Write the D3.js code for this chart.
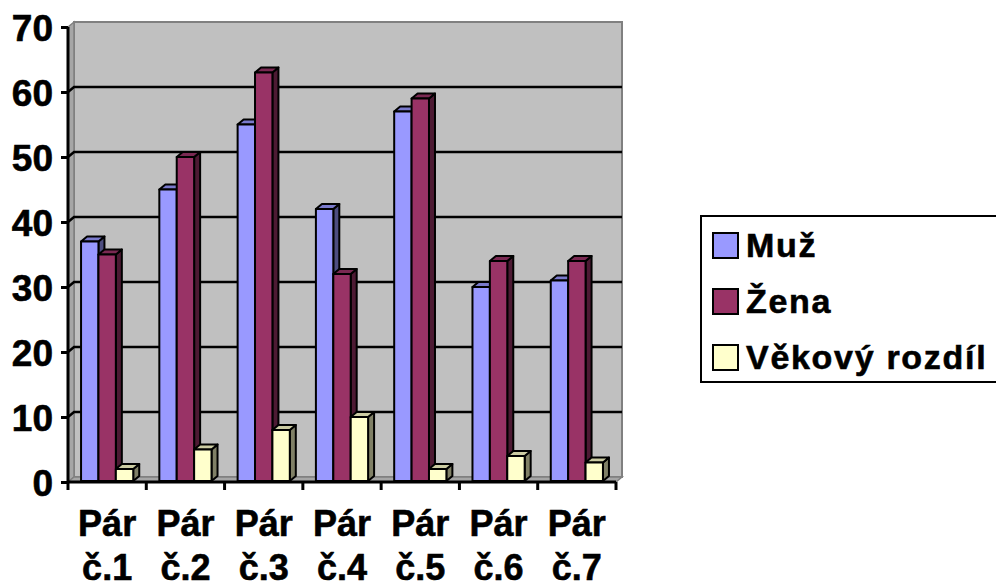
<!DOCTYPE html>
<html lang="cs">
<head>
<meta charset="UTF-8">
<title>Páry</title>
<script src="https://d3js.org/d3.v7.min.js"></script>
<style>
  body { margin: 0; background: #fff; }
  text { font-family: Arial, 'Liberation Sans', sans-serif; font-weight: bold; fill: #000; stroke: #000; stroke-width: 0.6px; }
</style>
</head>
<body>
<div class="canvas"></div>
<script>
  // data
  const categories = ['Pár č.1', 'Pár č.2', 'Pár č.3', 'Pár č.4', 'Pár č.5', 'Pár č.6', 'Pár č.7']
  const seriesNames = ['Muž', 'Žena', 'Věkový rozdíl']
  const muz = [37, 45, 55, 42, 57, 30, 31]
  const zena = [35, 50, 63, 32, 59, 34, 34]
  const rozdil = [2, 5, 8, 10, 2, 4, 3]
  const yTicks = [0, 10, 20, 30, 40, 50, 60, 70]
  const colors = ['#9999FF', '#993366', '#FFFFCC']

  const values = [muz, zena, rozdil]

  const W = 996, H = 587
  const pLeft = 68, pRight = 616, pTop = 27, pBottom = 482
  const dx = 6, dy = 5   // 3d depth

  const svg = d3.select('.canvas')
    .append('svg')
    .attr('width', W)
    .attr('height', H)

  const y = d3.scaleLinear().domain([0, 70]).range([pBottom, pTop])
  const x = d3.scaleBand().domain(categories).range([pLeft, pRight])
  const xs = d3.scaleBand().domain(seriesNames).range([0, x.bandwidth()]).paddingOuter(0.75)

  // back wall
  svg.append('rect')
    .attr('x', pLeft + dx).attr('y', pTop - dy)
    .attr('width', pRight - pLeft).attr('height', pBottom - pTop)
    .attr('fill', '#C0C0C0')
    .attr('stroke', '#808080').attr('stroke-width', 2)

  // side wall
  svg.append('path')
    .attr('d', `M${pLeft},${pTop}L${pLeft + dx},${pTop - dy}L${pLeft + dx},${pBottom - dy}L${pLeft},${pBottom}Z`)
    .attr('fill', '#A6A6A6').attr('stroke', '#808080').attr('stroke-width', 1.5)

  // floor
  svg.append('path')
    .attr('d', `M${pLeft},${pBottom}L${pLeft + dx},${pBottom - dy}L${pRight + dx},${pBottom - dy}L${pRight},${pBottom}Z`)
    .attr('fill', '#A6A6A6').attr('stroke', '#808080').attr('stroke-width', 1.5)

  // gridlines
  const grid = svg.append('g')
  yTicks.filter(t => t > 0 && t < 70).forEach(t => {
    grid.append('path')
      .attr('d', `M${pLeft},${y(t)}L${pLeft + dx},${y(t) - dy}L${pRight + dx},${y(t) - dy}`)
      .attr('fill', 'none').attr('stroke', '#000').attr('stroke-width', 2.5)
  })

  // bars
  const darker = (c, k) => {
    const r = d3.rgb(c)
    return d3.rgb(r.r * k, r.g * k, r.b * k).formatHex()
  }
  const bars = svg.append('g')
  categories.forEach((c, i) => {
    seriesNames.forEach((s, j) => {
      const v = values[j][i]
      const bx = x(c) + xs(s), w = xs.bandwidth()
      const by = y(v), b0 = y(0) - 1
      const g = bars.append('g')
        .attr('stroke', '#000').attr('stroke-width', 2).attr('stroke-linejoin', 'round')
      g.append('path')
        .attr('d', `M${bx + w},${by}L${bx + w + dx},${by - dy}L${bx + w + dx},${b0 - dy}L${bx + w},${b0}Z`)
        .attr('fill', darker(colors[j], 0.5))
      g.append('path')
        .attr('d', `M${bx},${by}L${bx + dx},${by - dy}L${bx + w + dx},${by - dy}L${bx + w},${by}Z`)
        .attr('fill', darker(colors[j], 0.8))
      g.append('rect')
        .attr('x', bx).attr('y', by).attr('width', w).attr('height', b0 - by)
        .attr('fill', colors[j])
    })
  })

  // axes
  svg.append('g')
    .attr('transform', `translate(${pLeft},0)`)
    .call(d3.axisLeft(y).tickValues(yTicks).tickSize(7).tickPadding(8).tickFormat(d3.format('d')))
    .call(g => g.selectAll('path, line').attr('stroke', '#000').attr('stroke-width', 3))
    .call(g => g.selectAll('text').attr('font-size', 37).attr('font-family', null).attr('fill', null).attr('dy', '0.36em'))
    .call(g => g.select('.domain').attr('d', `M0,${pTop}V${pBottom}`))

  const xAxis = svg.append('g')
  xAxis.append('line')
    .attr('x1', pLeft).attr('x2', pRight).attr('y1', pBottom).attr('y2', pBottom)
    .attr('stroke', '#000').attr('stroke-width', 3)
  const edges = categories.map(c => x(c)).concat([pRight])
  xAxis.selectAll('.tk').data(edges).enter().append('line')
    .attr('x1', d => d).attr('x2', d => d).attr('y1', pBottom).attr('y2', pBottom + 8)
    .attr('stroke', '#000').attr('stroke-width', 3)
  categories.forEach(c => {
    const t = xAxis.append('text')
      .attr('text-anchor', 'middle').attr('font-size', 36)
    c.split(' ').forEach((part, k) => {
      t.append('tspan').attr('x', x(c) + x.bandwidth() / 2).attr('y', 536 + k * 44).text(part)
    })
  })

  // legend
  const lg = svg.append('g')
  lg.append('rect')
    .attr('x', 701).attr('y', 216).attr('width', 320).attr('height', 166)
    .attr('fill', '#fff').attr('stroke', '#000').attr('stroke-width', 2)
  seriesNames.forEach((s, j) => {
    const ry = 245 + j * 56
    lg.append('rect')
      .attr('x', 713).attr('y', ry - 12).attr('width', 25).attr('height', 25)
      .attr('fill', colors[j]).attr('stroke', '#000').attr('stroke-width', 2)
    lg.append('text')
      .attr('x', 746).attr('y', ry).attr('dy', '0.36em')
      .attr('font-size', 34).attr('letter-spacing', 1.7).text(s)
  })
</script>
</body>
</html>
